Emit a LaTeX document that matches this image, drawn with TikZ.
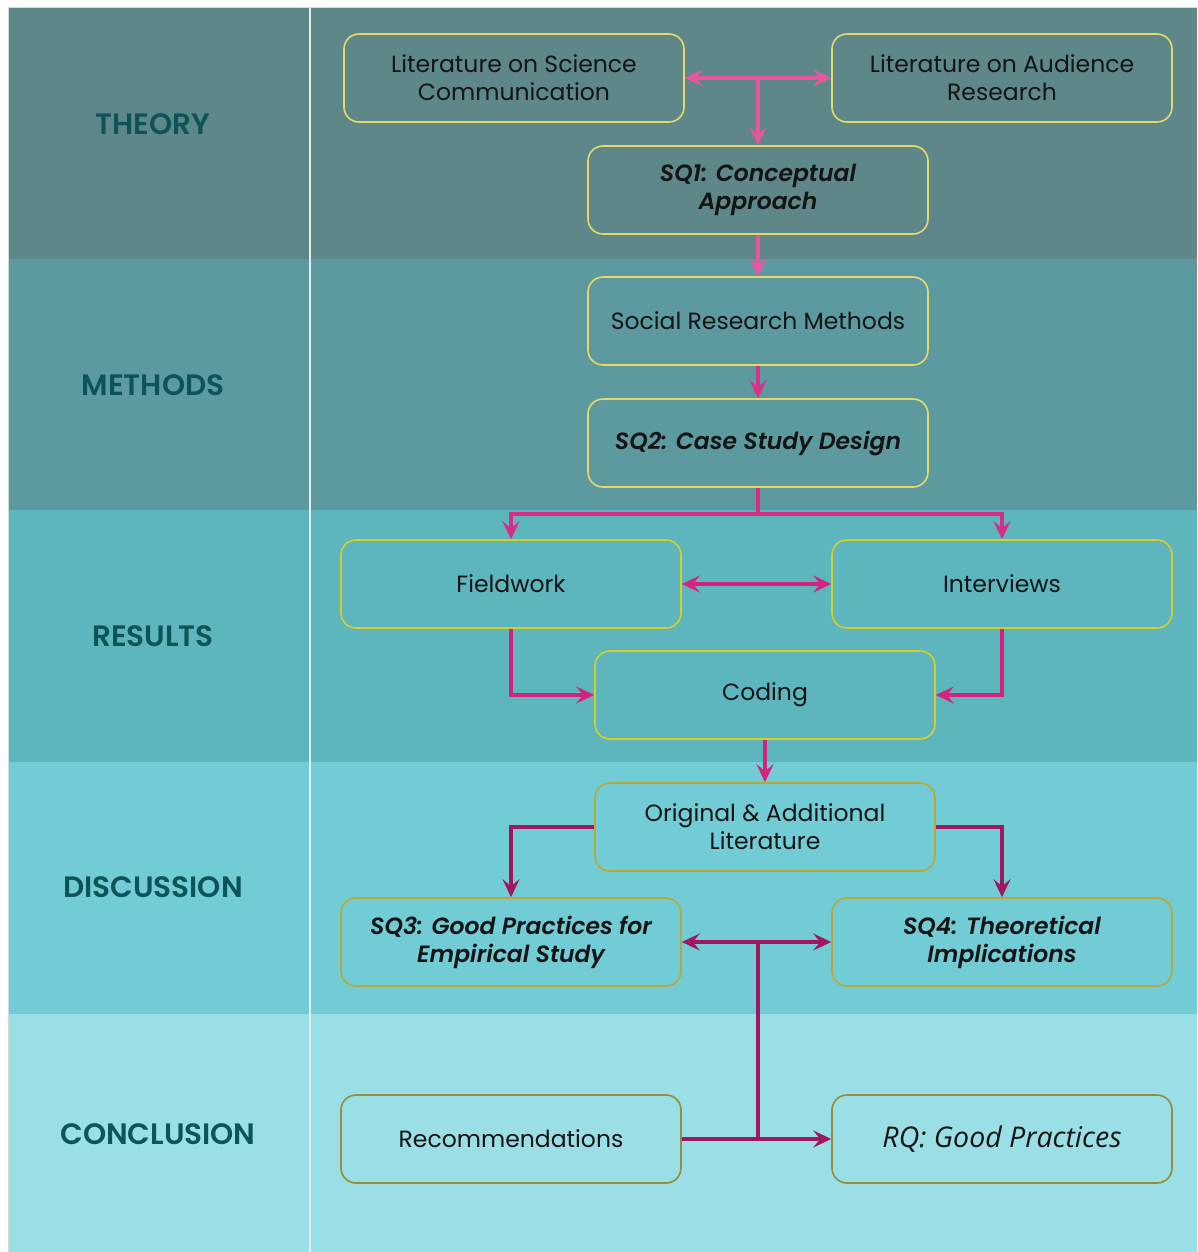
\documentclass[tikz,border=0pt]{standalone}
\usepackage{fontspec}
\setmainfont{Poppins}
\newfontfamily\sqfont{Poppins}[UprightFont=* SemiBold Italic]
\newfontfamily\labelfont{Poppins}[UprightFont=* SemiBold]
\newfontfamily\rqfont{Open Sans}
\usetikzlibrary{arrows.meta}

\definecolor{theoryBg}{HTML}{5E878A}
\definecolor{methodsBg}{HTML}{5C9AA0}
\definecolor{resultsBg}{HTML}{5DB6BE}
\definecolor{discBg}{HTML}{72CCD5}
\definecolor{conclBg}{HTML}{9ADFE5}
\definecolor{labelText}{HTML}{0D5459}
\definecolor{borderA}{HTML}{E6D86A}
\definecolor{borderB}{HTML}{D8CE2A}
\definecolor{borderC}{HTML}{BBA735}
\definecolor{borderD}{HTML}{968C3A}
\definecolor{arrowA}{HTML}{E856A0}
\definecolor{arrowB}{HTML}{D4237F}
\definecolor{arrowC}{HTML}{A0175F}
\definecolor{boxText}{HTML}{141414}

\tikzset{
  box/.style={rectangle, rounded corners=15pt, line width=1.6pt,
    minimum width=340pt, minimum height=88pt, inner sep=0pt,
    align=center, text=boxText, font=\fontsize{23.5}{28}\selectfont},
  sq/.style={box, font=\fontsize{23.5}{28}\selectfont\sqfont},
  rowlabel/.style={text=labelText, font=\fontsize{29.5}{32}\selectfont\labelfont},
  conn/.style={line width=3.2pt},
  tip/.tip={Stealth[length=18pt,width=17pt,inset=7pt]},
}

\begin{document}
\begin{tikzpicture}[x=1pt,y=-1pt]
\useasboundingbox (0,0) rectangle (1197,1252);
\fill[white] (0,0) rectangle (1197,1252);

% horizontal bands
\fill[theoryBg]  (8,8)    rectangle (1197,259);
\fill[methodsBg] (8,259)  rectangle (1197,510);
\fill[resultsBg] (8,510)  rectangle (1197,762);
\fill[discBg]    (8,762)  rectangle (1197,1014);
\fill[conclBg]   (8,1014) rectangle (1197,1252);
\draw[white!70!theoryBg, line width=1pt] (8,1252) -- (8,8) -- (1197,8);
\draw[white!85!theoryBg, line width=2pt] (310,8) -- (310,1252);

% row labels
\node[rowlabel] (lTheory) at (153,124) {THEORY};
\node[rowlabel] (lMethods) at (153,385) {METHODS};
\node[rowlabel] (lResults) at (153,636) {RESULTS};
\node[rowlabel] (lDisc) at (153,887) {DISCUSSION};
\node[rowlabel] (lConcl) at (158,1134) {CONCLUSION};

% boxes
\node[box, draw=borderA] (litsci) at (514,78) {Literature on Science\\Communication};
\node[box, draw=borderA] (litaud) at (1002,78) {Literature on Audience\\Research};
\node[sq, draw=borderA] (sq1) at (758,190) {SQ1: Conceptual\\Approach};
\node[box, draw=borderA] (srm) at (758,321) {Social Research Methods};
\node[sq, draw=borderA] (sq2) at (758,443) {SQ2: Case Study Design};
\node[box, draw=borderB] (field) at (511,584) {Fieldwork};
\node[box, draw=borderB] (inter) at (1002,584) {Interviews};
\node[box, draw=borderB] (coding) at (765,695) {Coding};
\node[box, draw=borderC] (orig) at (765,827) {Original \& Additional\\Literature};
\node[sq, draw=borderC] (sq3) at (511,942) {SQ3: Good Practices for\\Empirical Study};
\node[sq, draw=borderC] (sq4) at (1002,942) {SQ4: Theoretical\\Implications};
\node[box, draw=borderD] (rec) at (511,1139) {Recommendations};
\node[box, draw=borderD, font=\fontsize{28.5}{32}\selectfont\rqfont\itshape] (rq) at (1002,1139) {RQ: Good Practices};

% junction points
\coordinate (jTop) at (758,78);
\coordinate (jSplit) at (758,514);
\coordinate (jMid) at (758,942);
\coordinate (jLow) at (758,1139);

% connectors
\draw[conn, arrowA, tip-tip] (litsci.east) -- (litaud.west);
\draw[conn, arrowA, -tip] (jTop) -- (sq1.north);
\draw[conn, arrowA, -tip] (sq1.south) -- (srm.north);
\draw[conn, arrowB!70!arrowA, -tip] (srm.south) -- (sq2.north);
\draw[conn, arrowB!80!arrowA] (sq2.south) -- (jSplit);
\draw[conn, arrowB!80!arrowA, -tip] (jSplit) -| (field.north);
\draw[conn, arrowB!80!arrowA, -tip] (jSplit) -| (inter.north);
\draw[conn, arrowB, tip-tip] (field.east) -- (inter.west);
\draw[conn, arrowB, -tip] (field.south) |- (coding.west);
\draw[conn, arrowB, -tip] (inter.south) |- (coding.east);
\draw[conn, arrowB, -tip] (coding.south) -- (orig.north);
\draw[conn, arrowC, -tip] (orig.west) -| (sq3.north);
\draw[conn, arrowC, -tip] (orig.east) -| (sq4.north);
\draw[conn, arrowC, tip-tip] (sq3.east) -- (sq4.west);
\draw[conn, arrowC] (jMid) -- (jLow);
\draw[conn, arrowC, -tip] (rec.east) -- (rq.west);
\end{tikzpicture}
\end{document}
